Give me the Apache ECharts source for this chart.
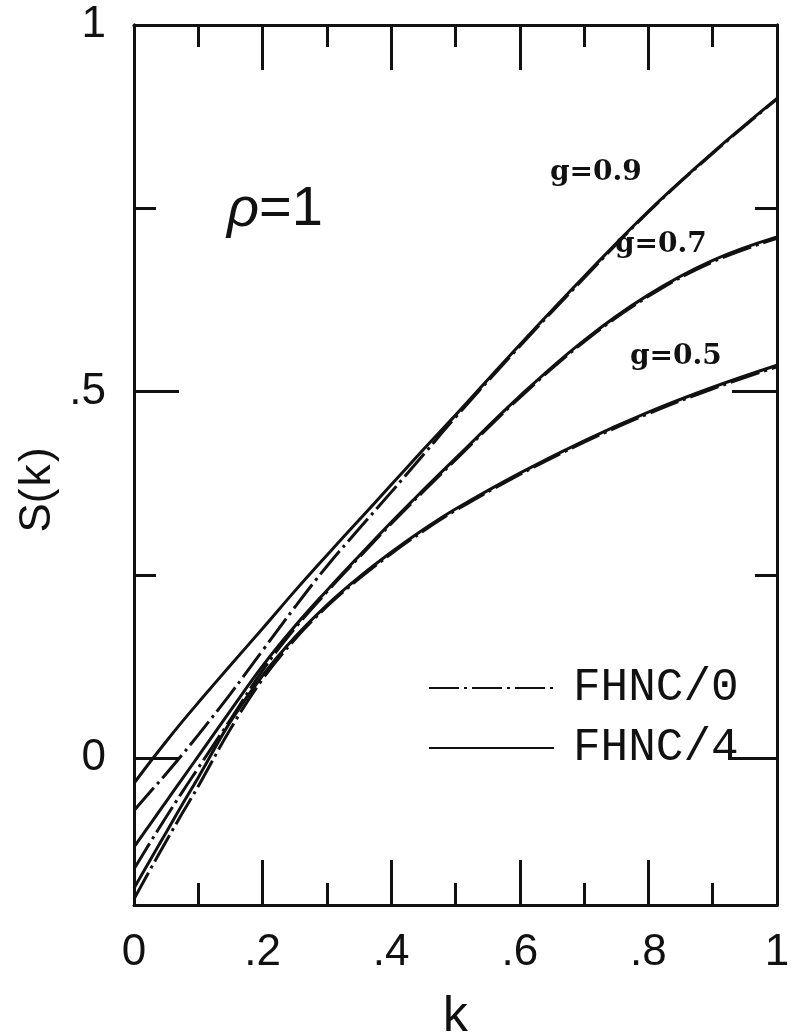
<!DOCTYPE html>
<html>
<head>
<meta charset="utf-8">
<title>S(k)</title>
<script src="https://cdn.jsdelivr.net/npm/echarts@6/dist/echarts.min.js"></script>
<style>
  html, body { margin: 0; padding: 0; background: #fff; }
  #chart { width: 795px; height: 1036px; }
</style>
</head>
<body>
<div id="chart"></div>
<script>
// values
const kValues = [0, 0.025, 0.05, 0.075, 0.1, 0.15, 0.2, 0.25, 0.3, 0.35, 0.4, 0.45, 0.5, 0.6, 0.7, 0.8, 0.9, 1.0]
const g09fhnc4 = [-0.034, -0.005, 0.023, 0.050, 0.076, 0.127, 0.177, 0.228, 0.277, 0.325, 0.373, 0.421, 0.468, 0.564, 0.657, 0.746, 0.826, 0.900]
const g09fhnc0 = [-0.071, -0.046, -0.021, 0.005, 0.032, 0.088, 0.147, 0.206, 0.262, 0.313, 0.363, 0.414, 0.465, 0.562, 0.655, 0.745, 0.825, 0.899]
const g07fhnc4 = [-0.121, -0.090, -0.059, -0.028, 0.003, 0.065, 0.126, 0.180, 0.229, 0.276, 0.322, 0.366, 0.409, 0.494, 0.570, 0.632, 0.679, 0.711]
const g07fhnc0 = [-0.151, -0.115, -0.080, -0.046, -0.013, 0.053, 0.120, 0.177, 0.227, 0.274, 0.320, 0.364, 0.407, 0.492, 0.568, 0.630, 0.677, 0.709]
const g05fhnc4 = [-0.177, -0.139, -0.101, -0.063, -0.026, 0.050, 0.113, 0.165, 0.209, 0.247, 0.281, 0.312, 0.340, 0.389, 0.433, 0.472, 0.506, 0.536]
const g05fhnc0 = [-0.192, -0.152, -0.113, -0.075, -0.038, 0.040, 0.108, 0.162, 0.207, 0.245, 0.279, 0.310, 0.338, 0.387, 0.431, 0.470, 0.504, 0.534]

const majorY = [0, 0.5, 1]
const minorY = [0.25, 0.75]
const gLabels = ['g=0.9', 'g=0.7', 'g=0.5']

const ink = '#111'
const solid = { color: ink, width: 3, type: 'solid' }
const dashDot = { color: ink, width: 3, type: [30, 5, 3, 5] }

function curve(name, values, style) {
  return {
    name: name,
    type: 'line',
    data: kValues.map((k, i) => [k, values[i]]),
    smooth: 0.4,
    symbol: 'none',
    color: ink,
    lineStyle: style,
  }
}

function tickLabel(v) {
  const r = Number(v.toFixed(2))
  if (r === 0 || r === 1) return String(r)
  return String(r).replace('0.', '.')
}

function yAxis(position, ticks, len, labels) {
  return {
    type: 'value',
    position: position,
    min: -0.2,
    max: 1,
    axisLine: { show: true, onZero: false, lineStyle: { color: ink, width: 3 } },
    axisTick: { show: true, inside: true, length: len, customValues: ticks, lineStyle: { color: ink, width: 3 } },
    axisLabel: labels
      ? { show: true, customValues: ticks, margin: 28, formatter: tickLabel, color: ink, fontFamily: 'Liberation Sans', fontSize: 44 }
      : { show: false },
    splitLine: { show: false },
  }
}

function xAxis(position, labels) {
  return {
    type: 'value',
    position: position,
    min: 0,
    max: 1,
    interval: 0.2,
    axisLine: { show: true, onZero: false, lineStyle: { color: ink, width: 3 } },
    axisTick: { show: true, inside: true, length: 45, lineStyle: { color: ink, width: 3 } },
    minorTick: { show: true, splitNumber: 2, length: 22, lineStyle: { color: ink, width: 3 } },
    axisLabel: labels
      ? { show: true, margin: 26, formatter: tickLabel, color: ink, fontFamily: 'Liberation Sans', fontSize: 44 }
      : { show: false },
    splitLine: { show: false },
    minorSplitLine: { show: false },
    name: labels ? 'k' : '',
    nameLocation: 'middle',
    nameGap: 88,
    nameTextStyle: { color: ink, fontFamily: 'Liberation Mono', fontSize: 50 },
  }
}

const chart = echarts.init(document.getElementById('chart'))
chart.setOption({
  animation: false,
  backgroundColor: '#fff',
  grid: { left: 134, right: 18, top: 25, bottom: 131, containLabel: false, outerBoundsMode: 'none' },
  xAxis: [xAxis('bottom', true), xAxis('top', false)],
  yAxis: [
    yAxis('left', majorY, 45, true),
    yAxis('left', minorY, 22, false),
    yAxis('right', majorY, 45, false),
    yAxis('right', minorY, 22, false),
  ],
  legend: {
    data: ['FHNC/0', 'FHNC/4'],
    orient: 'vertical',
    left: 423,
    top: 660,
    itemWidth: 125,
    itemHeight: 14,
    itemGap: 14,
    selectedMode: false,
    itemStyle: { opacity: 0 },
    textStyle: { color: ink, fontFamily: 'Liberation Mono', fontSize: 46, lineHeight: 46, padding: [0, 0, 0, 14] },
  },
  series: [
    curve('FHNC/4', g09fhnc4, solid),
    curve('FHNC/0', g09fhnc0, dashDot),
    curve('FHNC/4', g07fhnc4, solid),
    curve('FHNC/0', g07fhnc0, dashDot),
    curve('FHNC/4', g05fhnc4, solid),
    curve('FHNC/0', g05fhnc0, dashDot),
  ],
  graphic: [
    {
      type: 'text', x: 38, y: 490, rotation: Math.PI / 2,
      style: {
        text: '{a|S(}{b|k}{a|)}', fill: ink, align: 'center', verticalAlign: 'middle',
        rich: {
          a: { fontFamily: 'Liberation Sans', fontSize: 44, fill: ink },
          b: { fontFamily: 'Liberation Mono', fontSize: 44, fill: ink },
        },
      },
    },
    {
      type: 'text', x: 227, y: 210,
      style: {
        text: '{i|ρ}{n|=1}', fill: ink, align: 'left', verticalAlign: 'middle',
        rich: {
          i: { fontFamily: 'Liberation Sans', fontStyle: 'italic', fontSize: 56, fill: ink },
          n: { fontFamily: 'Liberation Sans', fontSize: 56, fill: ink },
        },
      },
    },
    { type: 'text', x: 550, y: 173, z: 10, style: { text: gLabels[0], fill: ink, fontFamily: 'DejaVu Serif', fontWeight: 'bold', fontSize: 28, align: 'left', verticalAlign: 'middle' } },
    { type: 'text', x: 615, y: 245, z: 10, style: { text: gLabels[1], fill: ink, fontFamily: 'DejaVu Serif', fontWeight: 'bold', fontSize: 28, align: 'left', verticalAlign: 'middle' } },
    { type: 'text', x: 630, y: 357, z: 10, style: { text: gLabels[2], fill: ink, fontFamily: 'DejaVu Serif', fontWeight: 'bold', fontSize: 28, align: 'left', verticalAlign: 'middle' } },
  ],
})
</script>
</body>
</html>
